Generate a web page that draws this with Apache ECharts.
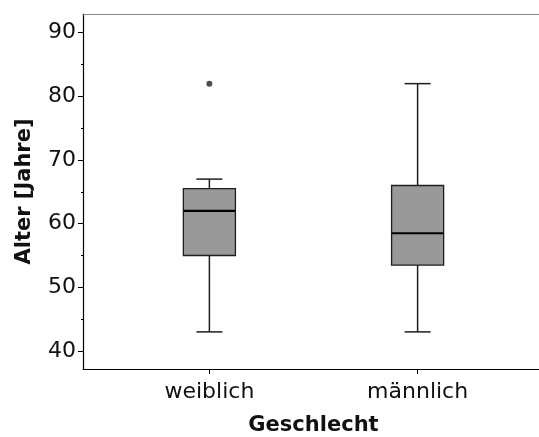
<!DOCTYPE html>
<html><head><meta charset="utf-8">
<script src="https://cdn.jsdelivr.net/npm/echarts@6/dist/echarts.min.js"></script>
<style>html,body{margin:0;padding:0;background:#fff}#c{width:539px;height:437px}</style>
</head><body><div id="c"></div>
<script>
const categories = ['weiblich', 'männlich'];
const whiskerLow = [43, 43];
const q1 = [55, 53.5];
const median = [62, 58.5];
const q3 = [65.5, 66];
const whiskerHigh = [67, 82];
const outliers = [[0, 82]];
const yTicks = [40, 50, 60, 70, 80, 90];
const yMinorTicks = [45, 55, 65, 75, 85];
const catPositions = categories.map((c, i) => i + 1);

const FONT = 'DejaVu Sans';
const chart = echarts.init(document.getElementById('c'), null, {renderer: 'canvas'});

const boxData = categories.map((c, i) => [i + 1, whiskerLow[i], q1[i], median[i], q3[i], whiskerHigh[i]]);
const outlierData = outliers.map(o => [o[0] + 1, o[1]]);

function renderBox(params, api) {
  const x = api.value(0);
  const unit = api.size([1, 0])[0];
  const half = unit * 0.125;
  const capHalf = unit * 0.0625;
  const pLow = api.coord([x, api.value(1)]);
  const pQ1 = api.coord([x, api.value(2)]);
  const pMed = api.coord([x, api.value(3)]);
  const pQ3 = api.coord([x, api.value(4)]);
  const pHigh = api.coord([x, api.value(5)]);
  const lineStyle = {stroke: '#1e1e1e', lineWidth: 1.5, fill: null};
  return {
    type: 'group',
    children: [
      {type: 'line', shape: {x1: pLow[0], y1: pLow[1], x2: pQ1[0], y2: pQ1[1]}, style: lineStyle},
      {type: 'line', shape: {x1: pLow[0] - capHalf, y1: pLow[1], x2: pLow[0] + capHalf, y2: pLow[1]}, style: lineStyle},
      {type: 'line', shape: {x1: pQ3[0], y1: pQ3[1], x2: pHigh[0], y2: pHigh[1]}, style: lineStyle},
      {type: 'line', shape: {x1: pHigh[0] - capHalf, y1: pHigh[1], x2: pHigh[0] + capHalf, y2: pHigh[1]}, style: lineStyle},
      {type: 'rect', shape: {x: pQ3[0] - half, y: pQ3[1], width: half * 2, height: pQ1[1] - pQ3[1]},
        style: {fill: '#999999', stroke: '#1e1e1e', lineWidth: 1.3}},
      {type: 'line', shape: {x1: pMed[0] - half, y1: pMed[1], x2: pMed[0] + half, y2: pMed[1]},
        style: {stroke: '#000', lineWidth: 2.2}}
    ]
  };
}

chart.setOption({
  animation: false,
  backgroundColor: '#fff',
  grid: {left: 83, top: 14, bottom: 68, right: -5, containLabel: false, outerBoundsMode: 'none'},
  xAxis: [{
    type: 'value', min: 0.393, max: 2.607, position: 'bottom',
    axisLine: {show: true, lineStyle: {color: '#000', width: 1.2}},
    axisTick: {show: true, length: 5, customValues: catPositions, lineStyle: {color: '#000'}},
    axisLabel: {customValues: catPositions, formatter: v => categories[Math.round(v) - 1],
      fontSize: 22, color: '#111', fontFamily: FONT, margin: 12},
    splitLine: {show: false},
    name: 'Geschlecht', nameLocation: 'middle', nameGap: 46,
    nameTextStyle: {fontSize: 21, fontWeight: 'bold', color: '#111', fontFamily: FONT}
  }, {
    type: 'value', min: 0.393, max: 2.607, position: 'top',
    axisLine: {show: true, lineStyle: {color: '#888', width: 1.2}},
    axisTick: {show: false}, axisLabel: {show: false}, splitLine: {show: false}
  }],
  yAxis: [{
    type: 'value', min: 37.17, max: 92.94, position: 'left',
    axisLine: {show: true, lineStyle: {color: '#000', width: 1.2}},
    axisTick: {show: true, length: 5, customValues: yTicks, lineStyle: {color: '#000'}},
    axisLabel: {customValues: yTicks, fontSize: 22, color: '#111', fontFamily: FONT, margin: 7},
    splitLine: {show: false},
    name: 'Alter [Jahre]', nameLocation: 'middle', nameGap: 48,
    nameTextStyle: {fontSize: 21, fontWeight: 'bold', color: '#111', fontFamily: FONT}
  }, {
    type: 'value', min: 37.17, max: 92.94, position: 'left',
    axisLine: {show: false},
    axisTick: {show: true, length: 2, customValues: yMinorTicks, lineStyle: {color: '#000'}},
    axisLabel: {show: false}, splitLine: {show: false}
  }],
  series: [{
    type: 'custom', xAxisIndex: 0, yAxisIndex: 0,
    renderItem: renderBox,
    encode: {x: 0, y: [1, 2, 3, 4, 5]},
    data: boxData
  }, {
    type: 'scatter', xAxisIndex: 0, yAxisIndex: 0,
    symbol: 'circle', symbolSize: 6,
    itemStyle: {color: '#222'},
    data: outlierData
  }]
});
</script></body></html>
